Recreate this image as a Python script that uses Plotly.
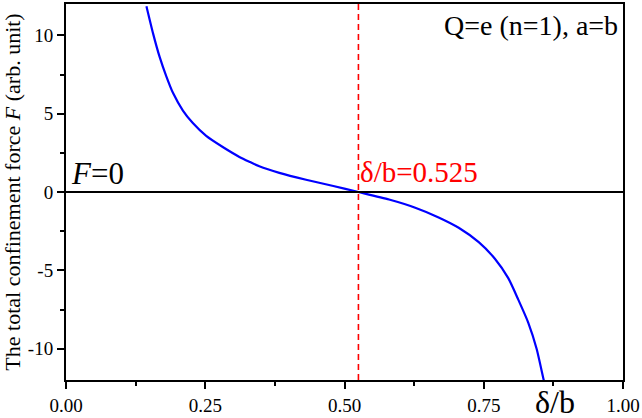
import plotly.graph_objects as go

delta_b = [0.1444, 0.1564, 0.1681, 0.1801, 0.1920, 0.2099, 0.2277, 0.2517, 0.2814, 0.3113,
           0.3292, 0.347, 0.383, 0.431, 0.478, 0.525, 0.580, 0.627, 0.669, 0.705,
           0.741, 0.770, 0.794, 0.812, 0.830, 0.845, 0.857, 0.859]
force = [11.86, 10.11, 8.62, 7.38, 6.33, 5.20, 4.40, 3.58, 2.87, 2.24,
         1.93, 1.64, 1.22, 0.78, 0.40, 0.0, -0.48, -1.0, -1.62, -2.28,
         -3.2, -4.26, -5.5, -6.87, -8.35, -10.02, -11.9, -12.2]
x_ticks = [0, 0.25, 0.5, 0.75, 1.0]
x_tick_labels = ["0.00", "0.25", "0.50", "0.75", "1.00"]
y_ticks = [-10, -5, 0, 5, 10]
y_tick_labels = ["-10", "-5", "0", "5", "10"]
crossing = 0.525

FONT = "Liberation Serif, Times New Roman, serif"

fig = go.Figure()
fig.add_trace(go.Scatter(x=delta_b, y=force, mode="lines",
                         line=dict(color="#0000ff", width=2.2, shape="spline", smoothing=0.6),
                         showlegend=False, hoverinfo="skip"))

fig.add_shape(type="line", xref="paper", yref="y", x0=0, x1=1, y0=0, y1=0,
              line=dict(color="black", width=2))
fig.add_shape(type="line", xref="x", yref="paper", x0=crossing, x1=crossing, y0=0, y1=1,
              line=dict(color="#ff0000", width=1.6, dash="6px,4px"))

fig.add_annotation(x=crossing, y=0, xref="x", yref="y", text="δ/b=0.525",
                   showarrow=False, xanchor="left", yanchor="bottom", xshift=0, yshift=2,
                   font=dict(family=FONT, size=29, color="#ff0000"))
fig.add_annotation(x=0, y=0, xref="paper", yref="y", text="<i>F</i>=0",
                   showarrow=False, xanchor="left", yanchor="bottom", xshift=3, yshift=-1,
                   font=dict(family=FONT, size=31, color="black"))
fig.add_annotation(x=1, y=1, xref="paper", yref="paper", text="Q=e (n=1), a=b",
                   showarrow=False, xanchor="right", yanchor="top", xshift=-3, yshift=-4,
                   font=dict(family=FONT, size=28, color="black"))
fig.add_annotation(x=0.878, y=0, xref="paper", yref="paper", text="δ/b",
                   showarrow=False, xanchor="center", yanchor="top", yshift=-2,
                   font=dict(family=FONT, size=32, color="black"))

fig.update_xaxes(range=[0, 1], tickmode="array", tickvals=x_ticks, ticktext=x_tick_labels,
                 ticks="outside", ticklen=7, tickwidth=2, tickcolor="black",
                 minor=dict(ticks="outside", ticklen=4, tickwidth=1.5, dtick=0.125, tickcolor="black"),
                 showline=True, linecolor="black", linewidth=2, mirror=True,
                 showgrid=False, zeroline=False,
                 tickfont=dict(family=FONT, size=19, color="black"))
fig.update_yaxes(range=[-12, 12], tickmode="array", tickvals=y_ticks, ticktext=y_tick_labels,
                 ticks="outside", ticklen=7, tickwidth=2, tickcolor="black",
                 minor=dict(ticks="outside", ticklen=4, tickwidth=1.5, dtick=2.5, tickcolor="black"),
                 showline=True, linecolor="black", linewidth=2, mirror=True,
                 showgrid=False, zeroline=False,
                 title=dict(text="The total confinement force <i>F</i> (arb. unit)",
                            font=dict(family=FONT, size=22, color="black"), standoff=4),
                 tickfont=dict(family=FONT, size=19, color="black"))

fig.update_layout(width=642, height=418, margin=dict(l=66, r=17, t=2, b=35),
                  paper_bgcolor="white", plot_bgcolor="white")

fig.write_html("out.html", config={"displayModeBar": False},
               post_script="document.body.style.margin='0';document.body.style.overflow='hidden';")
